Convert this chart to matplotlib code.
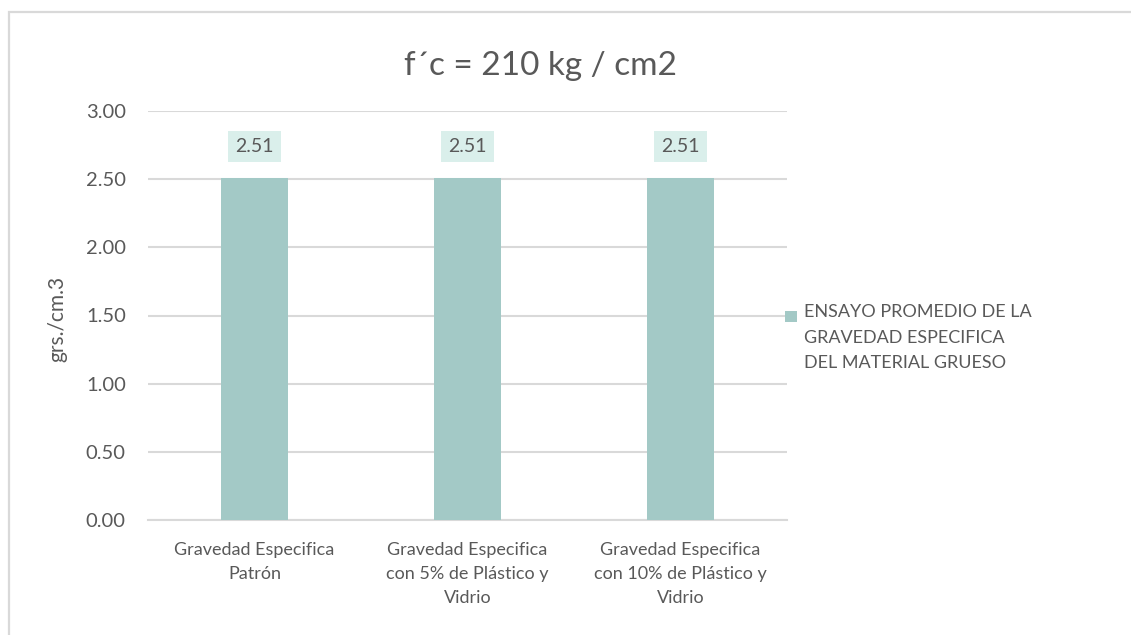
import matplotlib.pyplot as plt
from matplotlib.patches import Rectangle

# --- data ---
categories = [
    "Gravedad Especifica\nPatrón",
    "Gravedad Especifica\ncon 5% de Plástico y\nVidrio",
    "Gravedad Especifica\ncon 10% de Plástico y\nVidrio",
]
values = [2.51, 2.51, 2.51]
y_ticks = [0.0, 0.5, 1.0, 1.5, 2.0, 2.5, 3.0]
series_name = "ENSAYO PROMEDIO DE LA\nGRAVEDAD ESPECIFICA\nDEL MATERIAL GRUESO"
title = "f´c = 210 kg / cm2"
y_label = "grs./cm.3"

BAR_COLOR = "#A3C9C6"
LABEL_BG = "#DAEFEB"
TEXT_COLOR = "#595959"
GRID_COLOR = "#D9D9D9"

plt.rcParams["font.family"] = ["Lato", "DejaVu Sans"]

W, H = 1131, 635
fig = plt.figure(figsize=(W / 100, H / 100), dpi=100)

# light chart border (runs off the right and bottom edges)
fig.patches.append(Rectangle((9 / W, -0.2), 1.2, 1.2 - 12 / H, transform=fig.transFigure,
                             fill=False, edgecolor=GRID_COLOR, linewidth=1.6))

ax = fig.add_axes([148 / W, 1 - 520 / H, (787 - 148) / W, (520 - 111) / H])

x = list(range(len(categories)))
bars = ax.bar(x, values, width=0.315, color=BAR_COLOR, zorder=3)

for rect, v in zip(bars, values):
    ax.annotate(f"{v:.2f}", xy=(rect.get_x() + rect.get_width() / 2, v),
                xytext=(0, 31), textcoords="offset pixels",
                ha="center", va="center", fontsize=14, color=TEXT_COLOR,
                bbox=dict(boxstyle="square,pad=0.35", facecolor=LABEL_BG, edgecolor="none"),
                zorder=4)

ax.set_xlim(-0.5, len(categories) - 0.5)
ax.set_ylim(0, 3.0)
ax.set_yticks(y_ticks)
ax.set_yticklabels([f"{t:.2f}" for t in y_ticks])
ax.set_xticks(x)
ax.set_xticklabels(categories, linespacing=1.62)

ax.tick_params(axis="both", length=0, colors=TEXT_COLOR)
ax.tick_params(axis="y", pad=16, labelsize=14.5)
ax.tick_params(axis="x", pad=16, labelsize=13)

ax.grid(axis="y", color=GRID_COLOR, linewidth=1.5, zorder=0)
for s in ["top", "right", "left"]:
    ax.spines[s].set_visible(False)
ax.spines["bottom"].set_color(GRID_COLOR)
ax.spines["bottom"].set_linewidth(1.5)

fig.text(57 / W, 1 - 319 / H, y_label, rotation=90, ha="center", va="center",
         fontsize=15, color=TEXT_COLOR)
fig.text(540 / W, 1 - 66 / H, title, ha="center", va="center",
         fontsize=24, color=TEXT_COLOR)

# legend
fig.patches.append(Rectangle((785 / W, 1 - 322 / H), 12 / W, 11 / H,
                             transform=fig.transFigure, facecolor=BAR_COLOR, edgecolor="none"))
fig.text(804 / W, 1 - 304 / H, series_name, ha="left", va="top", fontsize=13,
         color=TEXT_COLOR, linespacing=1.75)

fig.savefig("out.png", dpi=100)
